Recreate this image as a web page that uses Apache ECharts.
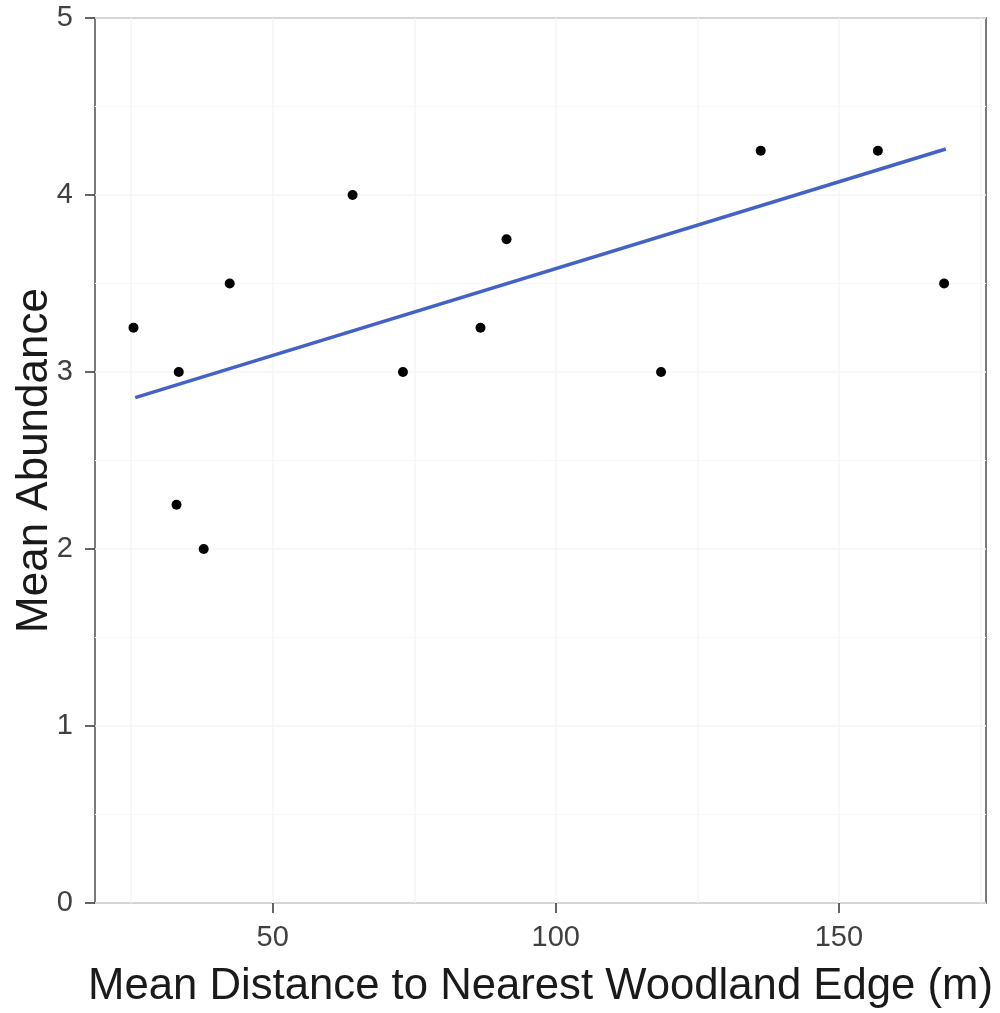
<!DOCTYPE html>
<html>
<head>
<meta charset="utf-8">
<script src="https://cdn.jsdelivr.net/npm/echarts@6/dist/echarts.min.js"></script>
<style>
html,body{margin:0;padding:0;background:#fff;}
#chart{width:1000px;height:1013px;}
</style>
</head>
<body>
<div id="chart"></div>
<script>
// Observed points
var distance = [25.4, 33.4, 33.0, 37.8, 42.4, 64.1, 73.0, 86.7, 91.3, 118.6, 136.2, 156.9, 168.6];
var abundance = [3.25, 3.0, 2.25, 2.0, 3.5, 4.0, 3.0, 3.25, 3.75, 3.0, 4.25, 4.25, 3.5];
// Fitted line endpoints
var fitX = [25.7, 168.9];
var fitY = [2.855, 4.26];
// Axis ticks
var xTicks = [50, 100, 150];
var xGridLines = [25, 50, 75, 100, 125, 150, 175];
var yTicks = [0, 1, 2, 3, 4, 5];

var pts = distance.map(function (d, i) { return [d, abundance[i]]; });
var fit = fitX.map(function (d, i) { return [d, fitY[i]]; });

var chart = echarts.init(document.getElementById('chart'), null, {renderer: 'canvas'});
chart.setOption({
  backgroundColor: '#ffffff',
  animation: false,
  grid: {
    left: 95, right: 14, top: 18, bottom: 110,
    outerBoundsMode: 'none', containLabel: false,
    show: true, borderColor: '#7a7a7a', borderWidth: 2, backgroundColor: 'transparent'
  },
  xAxis: {
    type: 'value', min: 18.6, max: 176,
    name: 'Mean Distance to Nearest Woodland Edge (m)',
    nameLocation: 'middle', nameGap: 62, nameMoveOverlap: false,
    nameTextStyle: {fontFamily: 'Liberation Sans', fontSize: 43.7, color: '#1a1a1a'},
    axisLine: {show: false},
    axisTick: {show: true, length: 10, customValues: xTicks, lineStyle: {color: '#333333', width: 1.5}},
    axisLabel: {customValues: xTicks, margin: 20, fontFamily: 'Liberation Sans', fontSize: 29, color: '#404040'},
    splitLine: {show: false}
  },
  yAxis: {
    type: 'value', min: 0, max: 5, interval: 1,
    name: 'Mean Abundance',
    nameLocation: 'middle', nameGap: 38, nameMoveOverlap: false,
    nameTextStyle: {fontFamily: 'Liberation Sans', fontSize: 44, color: '#1a1a1a'},
    axisLine: {show: false},
    axisTick: {show: true, length: 10, lineStyle: {color: '#333333', width: 1.5}},
    axisLabel: {margin: 22, padding: [5, 0, 0, 0], fontFamily: 'Liberation Sans', fontSize: 29, color: '#404040'},
    splitLine: {show: true, lineStyle: {color: '#f6f6f6', width: 1.5}},
    minorTick: {show: false, splitNumber: 2},
    minorSplitLine: {show: true, lineStyle: {color: '#f8f8f8', width: 1}}
  },
  series: [
    {
      type: 'line', data: [], z: 0, silent: true,
      markLine: {
        z: 0,
        silent: true, symbol: ['none', 'none'], label: {show: false},
        lineStyle: {color: '#f6f6f6', width: 1.5, type: 'solid'},
        animation: false,
        data: xGridLines.map(function (v) { return {xAxis: v}; })
      }
    },
    {
      type: 'line', data: fit, showSymbol: false, symbol: 'none', z: 3,
      lineStyle: {color: '#4262c8', width: 3.5}
    },
    {
      type: 'scatter', data: pts, symbol: 'circle', symbolSize: 10, z: 4,
      itemStyle: {color: '#000000', opacity: 1}
    }
  ]
});
</script>
</body>
</html>
